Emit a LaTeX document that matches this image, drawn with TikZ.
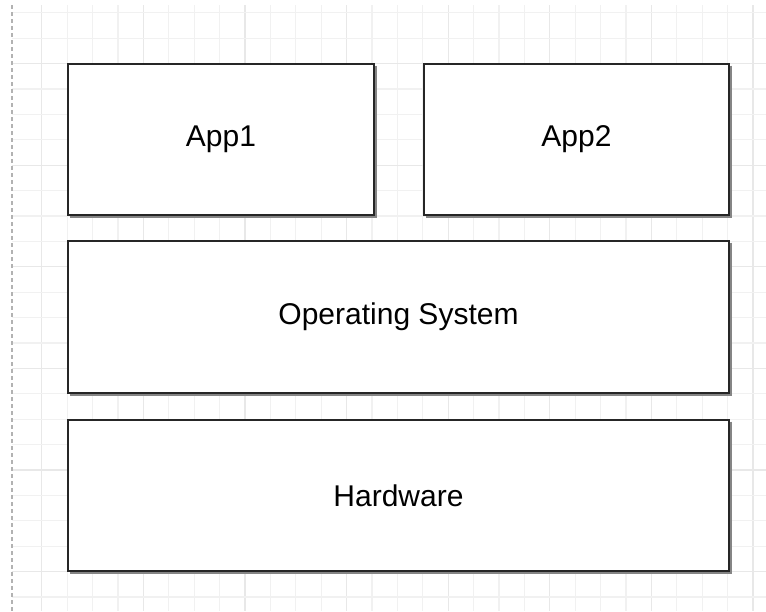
\documentclass[tikz,border=0pt]{standalone}
\usepackage{fontspec}
\setmainfont{Liberation Sans}
\definecolor{gridminor}{HTML}{F1F1F1}
\definecolor{gridmajor}{HTML}{E8E8E8}
\definecolor{edgeshade}{HTML}{858585}
\begin{document}
\begin{tikzpicture}[x=1pt,y=-1pt,
  layerbox/.style={draw=black!85, line width=1.4pt, fill=white, inner sep=0pt,
    font=\fontsize{30}{36}\selectfont},
  boxshade/.style={draw=edgeshade, line width=3pt}]
  % canvas
  \useasboundingbox (0,0) rectangle (766,611);
  \fill[white] (0,0) rectangle (766,611);
  % background grid: minor lines every cell, heavier every fourth
  \foreach \k in {0,...,28}{
    \pgfmathsetmacro{\gx}{41.7+25.4*\k}
    \pgfmathtruncatemacro{\m}{mod(\k,4)}
    \ifnum\m=0
      \draw[gridmajor, line width=1.2pt] (\gx,5) -- (\gx,611);
    \else
      \draw[gridminor, line width=1.2pt] (\gx,5) -- (\gx,611);
    \fi
  }
  \foreach \k in {-2,...,21}{
    \pgfmathsetmacro{\gy}{63.6+25.4*\k}
    \pgfmathtruncatemacro{\m}{mod(\k+8,4)}
    \ifnum\m=0
      \draw[gridmajor, line width=1.2pt] (12,\gy) -- (766,\gy);
    \else
      \draw[gridminor, line width=1.2pt] (12,\gy) -- (766,\gy);
    \fi
  }
  % page edge
  \draw[black!30, line width=1.5pt, dash pattern=on 4pt off 3pt] (12,5) -- (12,611);
  % shadows along the right and bottom edges
  \foreach \xa/\ya/\xb/\yb in {68/64/374/215, 424/64/729/215, 68/241/729/393, 68/420/729/571}{
    \draw[boxshade] (\xb+1.2,\ya+1.5) -- (\xb+1.2,\yb+1.2) -- (\xa+1.5,\yb+1.2);
  }
  % layers
  \node[layerbox, minimum width=306pt, minimum height=151pt] (app1) at (221,139.5) {App1};
  \node[layerbox, minimum width=305pt, minimum height=151pt] (app2) at (576.5,139.5) {App2};
  \node[layerbox, minimum width=661pt, minimum height=152pt] (os) at (398.5,317) {Operating System};
  \node[layerbox, minimum width=661pt, minimum height=151pt] (hw) at (398.5,495.5) {Hardware};
\end{tikzpicture}
\end{document}
